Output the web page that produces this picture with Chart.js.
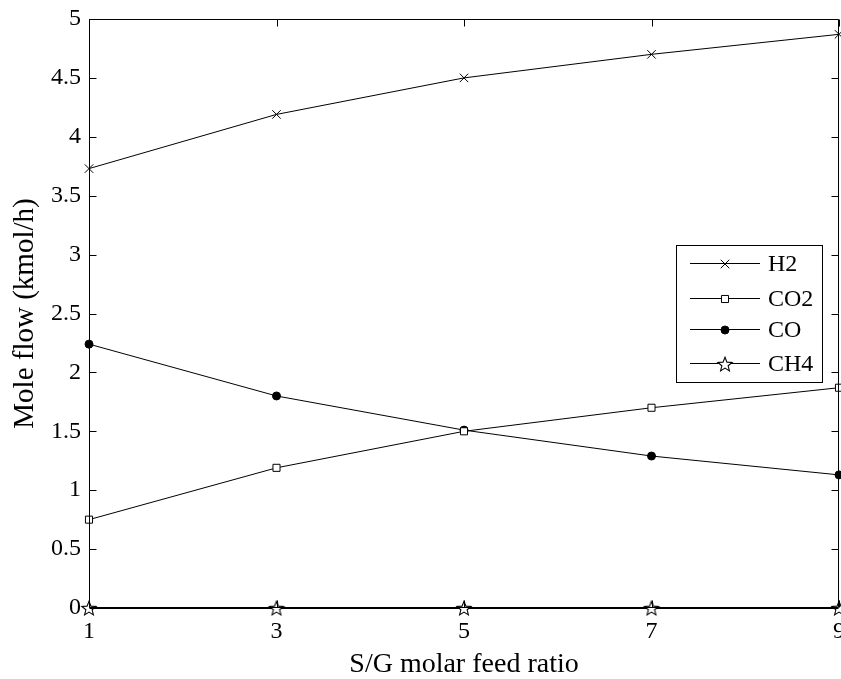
<!DOCTYPE html>
<html>
<head>
<meta charset="utf-8">
<script src="https://cdn.jsdelivr.net/npm/chart.js@4.4.1/dist/chart.umd.min.js"></script>
<style>
  html, body { margin: 0; padding: 0; background: #fff; }
  #wrap { width: 841px; height: 679px; }
</style>
</head>
<body>
<div id="wrap"><canvas id="c" width="841" height="679"></canvas></div>
<script>
// Steam-to-gas molar feed ratio and the product mole flows (kmol/h)
const feedRatio = [1, 3, 5, 7, 9];
const h2Flow  = [3.73, 4.19, 4.50, 4.70, 4.87];
const co2Flow = [0.75, 1.19, 1.50, 1.70, 1.87];
const coFlow  = [2.24, 1.80, 1.51, 1.29, 1.13];
const ch4Flow = [0, 0, 0, 0, 0];
const seriesNames = ['H2', 'CO2', 'CO', 'CH4'];
const xTickValues = [1, 3, 5, 7, 9];
const yTickValues = [0, 0.5, 1, 1.5, 2, 2.5, 3, 3.5, 4, 4.5, 5];

const FONT = '"Liberation Serif", "Times New Roman", serif';

// Outlined five-pointed star used as the CH4 marker
function makeStar(outer, inner) {
  const s = 18;
  const cv = document.createElement('canvas');
  cv.width = s; cv.height = s;
  const g = cv.getContext('2d');
  const c = s / 2;
  g.beginPath();
  for (let i = 0; i < 10; i++) {
    const r = i % 2 === 0 ? outer : inner;
    const a = -Math.PI / 2 + i * Math.PI / 5;
    const px = c + r * Math.cos(a), py = c + 0.8 + r * Math.sin(a);
    if (i === 0) g.moveTo(px, py); else g.lineTo(px, py);
  }
  g.closePath();
  g.fillStyle = '#fff';
  g.fill();
  g.lineWidth = 1.1;
  g.strokeStyle = '#000';
  g.stroke();
  return cv;
}
const starMarker = makeStar(7.5, 3.3);

function pts(ys) { return feedRatio.map((x, i) => ({ x: x, y: ys[i] })); }

const markerStyles = [
  { pointStyle: 'crossRot', radius: 6, bg: '#000' },
  { pointStyle: 'rect', radius: 5, bg: '#fff' },
  { pointStyle: 'circle', radius: 4, bg: '#000' },
  { pointStyle: starMarker, radius: 8, bg: '#fff' }
];
const seriesData = [h2Flow, co2Flow, coFlow, ch4Flow];

const datasets = seriesNames.map((name, i) => ({
  label: name,
  data: pts(seriesData[i]),
  borderColor: '#000',
  borderWidth: 1,
  backgroundColor: markerStyles[i].bg,
  pointStyle: markerStyles[i].pointStyle,
  pointRadius: markerStyles[i].radius,
  pointBorderColor: '#000',
  pointBackgroundColor: markerStyles[i].bg,
  pointBorderWidth: 1,
  tension: 0,
  clip: false
}));

// Box around the plot with inward ticks on all four sides
const boxTicks = {
  id: 'boxTicks',
  afterDraw(chart) {
    const { ctx, chartArea: a } = chart;
    const xs = chart.scales.x, ys = chart.scales.y;
    const L = Math.round(a.left) + 0.5, R = Math.round(a.right) - 0.5;
    const T = Math.round(a.top) + 0.5, B = Math.round(a.bottom) - 0.5;
    const len = 7;
    ctx.save();
    ctx.strokeStyle = '#000';
    ctx.lineWidth = 1;
    ctx.beginPath();
    ctx.rect(L, T, R - L, B - T);
    xTickValues.forEach(v => {
      const px = Math.round(xs.getPixelForValue(v)) + 0.5;
      ctx.moveTo(px, B); ctx.lineTo(px, B - len);
      ctx.moveTo(px, T); ctx.lineTo(px, T + len);
    });
    yTickValues.forEach(v => {
      const py = Math.round(ys.getPixelForValue(v)) + 0.5;
      ctx.moveTo(L, py); ctx.lineTo(L + len, py);
      ctx.moveTo(R, py); ctx.lineTo(R - len, py);
    });
    ctx.stroke();
    ctx.restore();
  }
};

// Boxed legend in the right part of the plot
const boxLegend = {
  id: 'boxLegend',
  afterDraw(chart) {
    const ctx = chart.ctx;
    const left = 676.5, top = 245.5, w = 146, h = 137;
    const rowY = [263, 298, 329, 363];
    ctx.save();
    ctx.fillStyle = '#fff';
    ctx.fillRect(left, top, w, h);
    ctx.strokeStyle = '#000';
    ctx.lineWidth = 1;
    ctx.strokeRect(left, top, w, h);
    chart.data.datasets.forEach((ds, i) => {
      const y = rowY[i] + 0.5;
      ctx.strokeStyle = '#000';
      ctx.lineWidth = 1;
      ctx.beginPath();
      ctx.moveTo(690, y); ctx.lineTo(760, y);
      ctx.stroke();
      ctx.fillStyle = ds.pointBackgroundColor;
      Chart.helpers.drawPoint(ctx, {
        pointStyle: ds.pointStyle, radius: ds.pointRadius, rotation: 0, borderWidth: 1
      }, 725, Math.round(y));
      ctx.fillStyle = '#000';
      ctx.font = '24px ' + FONT;
      ctx.textBaseline = 'middle';
      ctx.textAlign = 'left';
      ctx.fillText(ds.label, 768, y + 1);
    });
    ctx.restore();
  }
};

new Chart(document.getElementById('c'), {
  type: 'line',
  data: { datasets: datasets },
  options: {
    responsive: false,
    animation: false,
    layout: { autoPadding: false, padding: { left: 0, right: 2, top: 19, bottom: 0 } },
    plugins: { legend: { display: false }, tooltip: { enabled: false } },
    scales: {
      x: {
        type: 'linear',
        min: 1, max: 9,
        afterBuildTicks: s => { s.ticks = xTickValues.map(v => ({ value: v })); },
        afterFit: s => { s.height = 71; s.paddingLeft = 0; s.paddingRight = 0; },
        grid: { display: false, drawTicks: false },
        border: { display: true, color: '#000', width: 1 },
        ticks: { color: '#000', padding: 9, maxRotation: 0, font: { family: FONT, size: 24 } },
        title: { display: true, text: 'S/G molar feed ratio', color: '#000', font: { family: FONT, size: 28, lineHeight: 1 }, padding: { top: 0, bottom: 0 } }
      },
      y: {
        min: 0, max: 5,
        afterBuildTicks: s => { s.ticks = yTickValues.map(v => ({ value: v })); },
        afterFit: s => { s.width = 89; s.paddingTop = 0; s.paddingBottom = 0; },
        grid: { display: false, drawTicks: false },
        border: { display: true, color: '#000', width: 1 },
        ticks: { color: '#000', padding: 8, font: { family: FONT, size: 24 }, callback: v => String(v) },
        title: { display: true, text: 'Mole flow (kmol/h)', color: '#000', font: { family: FONT, size: 29, lineHeight: 1 }, padding: { top: 11, bottom: 0 } }
      }
    }
  },
  plugins: [boxTicks, boxLegend]
});
</script>
</body>
</html>
